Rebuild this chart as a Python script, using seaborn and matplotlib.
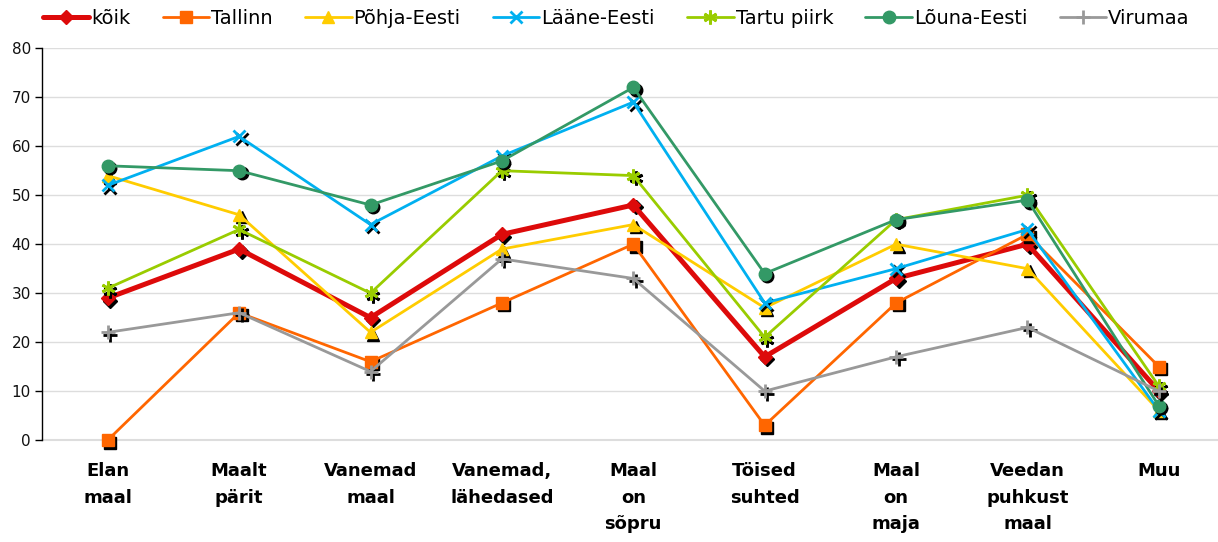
import matplotlib
matplotlib.use("Agg")
import matplotlib.pyplot as plt
import matplotlib.transforms as mtransforms
import seaborn as sns
import pandas as pd

categories = ["Elan\nmaal", "Maalt\npärit", "Vanemad\nmaal", "Vanemad,\nlähedased",
              "Maal\non\nsõpru", "Töised\nsuhted", "Maal\non\nmaja",
              "Veedan\npuhkust\nmaal", "Muu"]

koik = [29, 39, 25, 42, 48, 17, 33, 40, 10]
tallinn = [0, 26, 16, 28, 40, 3, 28, 42, 15]
pohja_eesti = [54, 46, 22, 39, 44, 27, 40, 35, 6]
laane_eesti = [52, 62, 44, 58, 69, 28, 35, 43, 6]
tartu_piirk = [31, 43, 30, 55, 54, 21, 45, 50, 11]
louna_eesti = [56, 55, 48, 57, 72, 34, 45, 49, 7]
virumaa = [22, 26, 14, 37, 33, 10, 17, 23, 10]

series_names = ["kõik", "Tallinn", "Põhja-Eesti", "Lääne-Eesti",
                "Tartu piirk", "Lõuna-Eesti", "Virumaa"]
series_values = [koik, tallinn, pohja_eesti, laane_eesti,
                 tartu_piirk, louna_eesti, virumaa]

styles = {
    "kõik": dict(color="#DD0A0A", marker="D", lw=3.6, ms=7),
    "Tallinn": dict(color="#FF6600", marker="s", lw=2.0, ms=9),
    "Põhja-Eesti": dict(color="#FFCC00", marker="^", lw=2.0, ms=9),
    "Lääne-Eesti": dict(color="#00B0F0", marker="x", lw=2.0, ms=9),
    "Tartu piirk": dict(color="#99CC00", marker=(6, 2, 0), lw=2.0, ms=10),
    "Lõuna-Eesti": dict(color="#339966", marker="o", lw=2.0, ms=9),
    "Virumaa": dict(color="#999999", marker="+", lw=2.0, ms=10),
}

rows = []
for name, vals in zip(series_names, series_values):
    for i, v in enumerate(vals):
        rows.append({"pos": i, "value": v, "series": name})
data = pd.DataFrame(rows)

sns.set_theme(style="white")
plt.rcParams["font.family"] = ["DejaVu Sans"]

fig = plt.figure(figsize=(12.18, 5.42), dpi=100)
ax = fig.add_axes([0.0345, 0.188, 0.9655, 0.723])

shadow = mtransforms.offset_copy(ax.transData, fig=fig, x=1.8, y=-1.8, units="points")

ax.axhline(0, color="#DDDDDD", linewidth=1.5, zorder=0.5, clip_on=False)

for name in series_names:
    st = styles[name]
    d = data[data["series"] == name]
    mew = 2.0 if st["marker"] in ("x", "+", (6, 2, 0)) else 1
    sns.lineplot(data=d, x="pos", y="value", ax=ax, color="black", linestyle="",
                 marker=st["marker"], markersize=st["ms"], markeredgewidth=mew,
                 markeredgecolor="black", transform=shadow, label="_nolegend_",
                 clip_on=False)
    sns.lineplot(data=d, x="pos", y="value", ax=ax, color=st["color"],
                 linewidth=st["lw"], marker=st["marker"], markersize=st["ms"],
                 markeredgewidth=mew, markeredgecolor=st["color"], label=name,
                 clip_on=False)

ax.set_xlim(-0.5, 8.45)
ax.set_ylim(0, 80)
ax.set_yticks(range(0, 81, 10))
ax.set_xticks(range(len(categories)))
ax.set_xticklabels(categories, fontsize=13, fontweight="bold", linespacing=1.6,
                   color="black")
ax.tick_params(axis="x", length=0, pad=16)
ax.tick_params(axis="y", length=5, width=1, direction="out", labelsize=11,
               left=True, color="black", labelcolor="#111111", pad=3)
ax.set_xlabel("")
ax.set_ylabel("")
ax.grid(axis="y", color="#DDDDDD", linewidth=1)
for s in ["top", "right", "bottom"]:
    ax.spines[s].set_visible(False)
ax.spines["left"].set_color("black")
ax.spines["left"].set_linewidth(1)

handles, labels = ax.get_legend_handles_labels()
leg = ax.legend(handles, labels, ncol=7, loc="upper left", bbox_to_anchor=(-0.006, 1.12),
                frameon=False, fontsize=14, handlelength=2.4, handletextpad=0.1,
                columnspacing=1.65, borderaxespad=0)
for t in leg.get_texts():
    t.set_color("black")

fig.savefig("out.png", dpi=100)
